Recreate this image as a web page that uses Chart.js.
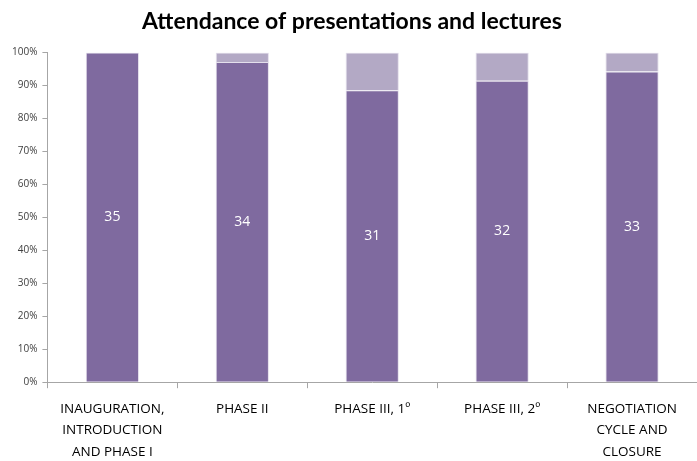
<!DOCTYPE html>
<html lang="en">
<head>
    <meta charset="UTF-8">
    <title>Attendance of presentations and lectures</title>
    <script src="https://cdn.jsdelivr.net/npm/chart.js"></script>
    <style>
        html, body { margin: 0; padding: 0; background: #fff; }
        #wrap { width: 697px; height: 461px; position: relative; }
    </style>
</head>
<body>
    <div id="wrap"><canvas id="chart"></canvas></div>
    <script>
        // categories and counts
        var categories = [
            ['INAUGURATION,', 'INTRODUCTION', 'AND PHASE I'],
            'PHASE II',
            'PHASE III, 1º',
            'PHASE III, 2º',
            ['NEGOTIATION', 'CYCLE AND', 'CLOSURE']
        ];
        var attended = [35, 34, 31, 32, 33];
        var absent = [0, 1, 4, 3, 2];
        var yTicks = [0, 10, 20, 30, 40, 50, 60, 70, 80, 90, 100];

        // 100% stacked -> percentages
        var pctAttended = attended.map(function (v, i) { return v / (v + absent[i]) * 100; });
        var pctAbsent = absent.map(function (v, i) { return v / (attended[i] + v) * 100; });

        // write the count in the middle of the dark segment
        var countLabels = {
            id: 'countLabels',
            afterDatasetsDraw: function (chart) {
                var ctx = chart.ctx;
                var meta = chart.getDatasetMeta(0);
                ctx.save();
                ctx.fillStyle = '#ffffff';
                ctx.font = '14px "Open Sans", sans-serif';
                ctx.textAlign = 'center';
                ctx.textBaseline = 'middle';
                meta.data.forEach(function (bar, i) {
                    ctx.fillText(attended[i], bar.x, (bar.y + bar.base) / 2);
                });
                ctx.restore();
            }
        };

        var ctx = document.getElementById('chart').getContext('2d');
        new Chart(ctx, {
            type: 'bar',
            data: {
                labels: categories,
                datasets: [{
                    label: 'Attended',
                    data: pctAttended,
                    backgroundColor: '#7f6a9f',
                    borderColor: '#e4dfec',
                    borderWidth: 1,
                    barPercentage: 0.41,
                    categoryPercentage: 1
                }, {
                    label: 'Absent',
                    data: pctAbsent,
                    backgroundColor: '#b3a9c5',
                    borderColor: '#e4dfec',
                    borderWidth: 1,
                    barPercentage: 0.41,
                    categoryPercentage: 1
                }]
            },
            options: {
                responsive: true,
                maintainAspectRatio: false,
                animation: false,
                layout: { padding: { left: 7, right: 0, top: 0, bottom: -12 } },
                plugins: {
                    legend: { display: false },
                    tooltip: { enabled: false },
                    title: {
                        display: true,
                        text: 'Attendance of presentations and lectures',
                        color: '#000',
                        font: { family: 'Lato', size: 23, weight: 'bold' },
                        padding: { top: 8, bottom: 17 }
                    }
                },
                scales: {
                    x: {
                        stacked: true,
                        grid: { display: true, drawOnChartArea: false, color: '#a6a6a6', tickLength: 6, offset: true },
                        border: { color: '#a6a6a6' },
                        ticks: {
                            color: '#000',
                            font: { family: '"Open Sans"', size: 13.5, lineHeight: 1.6 },
                            maxRotation: 0,
                            padding: 10
                        }
                    },
                    y: {
                        stacked: true,
                        min: 0,
                        max: 100,
                        afterBuildTicks: function (axis) {
                            axis.ticks = yTicks.map(function (v) { return { value: v }; });
                        },
                        grid: { display: true, drawOnChartArea: false, color: '#a6a6a6', tickLength: 5 },
                        border: { color: '#a6a6a6' },
                        ticks: {
                            color: '#404040',
                            font: { family: '"Open Sans"', size: 10 },
                            padding: 5,
                            callback: function (v) { return v + '%'; }
                        }
                    }
                }
            },
            plugins: [countLabels]
        });
    </script>
</body>
</html>
